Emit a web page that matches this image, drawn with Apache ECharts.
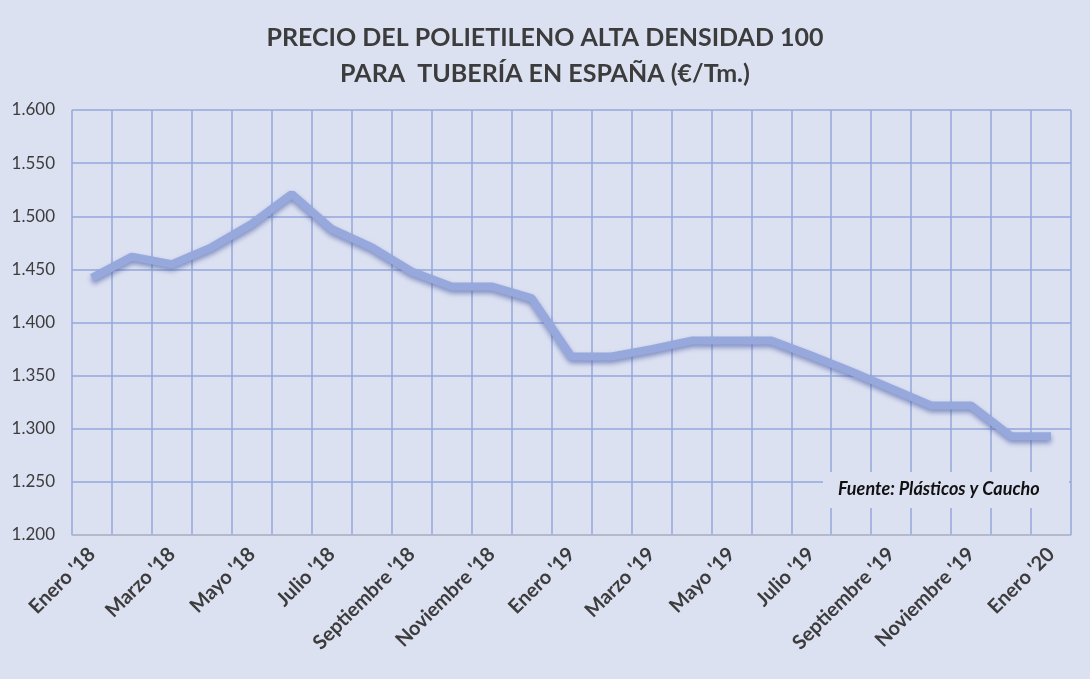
<!DOCTYPE html>
<html>
<head>
<meta charset="utf-8">
<script src="https://cdn.jsdelivr.net/npm/echarts@6/dist/echarts.min.js"></script>
<style>
  html, body { margin: 0; padding: 0; background: #dce1f2; }
  #chart { width: 1090px; height: 679px; }
</style>
</head>
<body>
<div id="chart"></div>
<script>
// meses, de enero 2018 a enero 2020
const months = [
  "Enero '18", "Febrero '18", "Marzo '18", "Abril '18", "Mayo '18", "Junio '18",
  "Julio '18", "Agosto '18", "Septiembre '18", "Octubre '18", "Noviembre '18", "Diciembre '18",
  "Enero '19", "Febrero '19", "Marzo '19", "Abril '19", "Mayo '19", "Junio '19",
  "Julio '19", "Agosto '19", "Septiembre '19", "Octubre '19", "Noviembre '19", "Diciembre '19",
  "Enero '20"
];
// precio €/Tm
const prices = [
  1442, 1462, 1455, 1471, 1493, 1521,
  1488, 1471, 1448, 1434, 1434, 1423,
  1368, 1368, 1375, 1383, 1383, 1383,
  1369, 1354, 1338, 1322, 1322, 1293,
  1293
];
const titleLines = ['PRECIO DEL POLIETILENO ALTA DENSIDAD 100', 'PARA  TUBERÍA EN ESPAÑA (€/Tm.)'];
const sourceText = 'Fuente: Plásticos y Caucho';

const chart = echarts.init(document.getElementById('chart'));
const gridColor = '#95a7da';
const textColor = '#3c3c3c';

chart.setOption({
  backgroundColor: '#dce1f2',
  animation: false,
  title: {
    text: titleLines.join('\n'),
    left: 'center',
    top: 15,
    textStyle: {
      fontFamily: 'Lato',
      fontWeight: 'bold',
      fontSize: 25,
      lineHeight: 36,
      color: textColor
    }
  },
  grid: {
    left: 72,
    right: 19,
    top: 110,
    bottom: 144
  },
  xAxis: {
    type: 'category',
    data: months,
    boundaryGap: true,
    axisLine: { show: true, lineStyle: { color: '#b8bcc8', width: 1.5 } },
    axisTick: { show: false },
    splitLine: { show: true, interval: 0, lineStyle: { color: gridColor, width: 1.5 } },
    axisLabel: {
      interval: 1,
      rotate: 45,
      margin: 16,
      color: textColor,
      fontFamily: 'Lato',
      fontWeight: 'bold',
      fontSize: 20
    }
  },
  yAxis: {
    type: 'value',
    min: 1200,
    max: 1600,
    interval: 50,
    axisLine: { show: false },
    axisTick: { show: false },
    splitLine: { lineStyle: { color: gridColor, width: 1.5 } },
    axisLabel: {
      margin: 17,
      color: textColor,
      fontFamily: 'Lato',
      fontSize: 17,
      formatter: v => (v / 1000).toFixed(3)
    }
  },
  series: [{
    type: 'line',
    data: prices,
    symbol: 'none',
    z: 3,
    lineStyle: {
      width: 8,
      color: '#97a8dc',
      shadowColor: 'rgba(70, 90, 160, 0.6)',
      shadowBlur: 5,
      shadowOffsetY: 3
    }
  }],
  graphic: [
    {
      type: 'rect',
      left: 823,
      top: 472,
      shape: { width: 246, height: 36 },
      style: { fill: '#dce1f2' },
      z: 10
    },
    {
      type: 'text',
      left: 838,
      top: 480,
      style: {
        text: sourceText,
        fill: '#111',
        font: 'italic bold 18px Lato'
      },
      z: 11
    }
  ]
});
</script>
</body>
</html>
